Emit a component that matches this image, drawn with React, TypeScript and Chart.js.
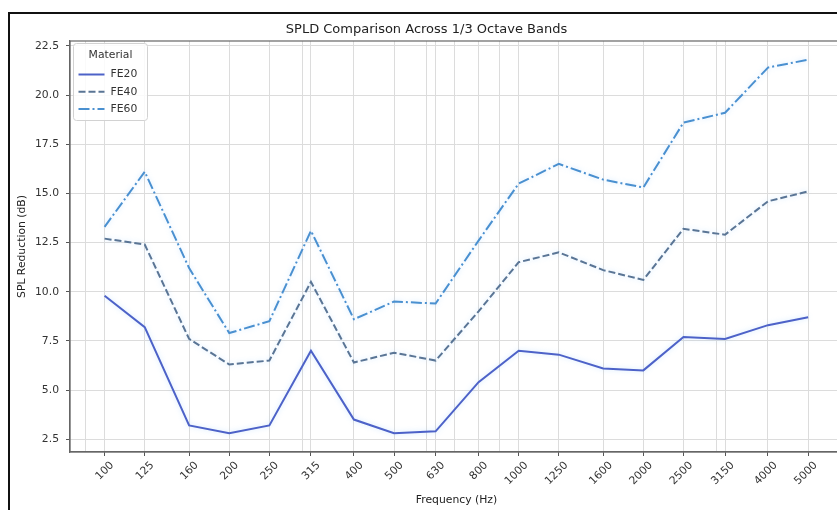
import React, { useEffect, useRef } from "react";
import { Chart, registerables } from "chart.js";

Chart.register(...registerables);

// ---- data ----
const frequencies = [100, 125, 160, 200, 250, 315, 400, 500, 630, 800, 1000, 1250, 1600, 2000, 2500, 3150, 4000, 5000];
const freqLabels = ["100", "125", "160", "200", "250", "315", "400", "500", "630", "800", "1000", "1250", "1600", "2000", "2500", "3150", "4000", "5000"];
const fe20 = [9.8, 8.2, 3.2, 2.8, 3.2, 7.0, 3.5, 2.8, 2.9, 5.4, 7.0, 6.8, 6.1, 6.0, 7.7, 7.6, 8.3, 8.7];
const fe40 = [12.7, 12.4, 7.6, 6.3, 6.5, 10.5, 6.4, 6.9, 6.5, 9.0, 11.5, 12.0, 11.1, 10.6, 13.2, 12.9, 14.6, 15.1];
const fe60 = [13.3, 16.1, 11.2, 7.9, 8.5, 13.1, 8.6, 9.5, 9.4, 12.6, 15.5, 16.5, 15.7, 15.3, 18.6, 19.1, 21.4, 21.8];
const seriesNames = ["FE20", "FE40", "FE60"];
const yTicks = [2.5, 5.0, 7.5, 10.0, 12.5, 15.0, 17.5, 20.0, 22.5];
const minorGrid = [90, 200, 300, 400, 500, 600, 700, 800, 900, 2000, 3000, 4000, 5000, 6000];

const chartTitle = "SPLD Comparison Across 1/3 Octave Bands";
const xTitle = "Frequency (Hz)";
const yTitle = "SPL Reduction (dB)";
const legendTitle = "Material";

const FONT = '"DejaVu Sans", "Liberation Sans", sans-serif';
const TICK_FONT_SIZE = 10.8;

const framePlugin = {
  id: "framePlugin",
  beforeDatasetsDraw(chart: any) {
    const { ctx, chartArea: a } = chart;
    ctx.save();
    ctx.strokeStyle = "#666";
    ctx.lineWidth = 1.2;
    ctx.strokeRect(a.left, a.top, a.right - a.left, a.bottom - a.top);
    ctx.restore();
  },
  beforeDatasetDraw(chart: any) {
    const ctx = chart.ctx;
    ctx.save();
    ctx.shadowColor = "rgba(120,190,255,0.35)";
    ctx.shadowBlur = 5;
  },
  afterDatasetDraw(chart: any) {
    chart.ctx.restore();
  },
  afterDraw(chart: any) {
    const { ctx, chartArea: a } = chart;
    const bx = a.left + 3.5;
    const by = a.top + 2.5;
    const bw = 74;
    const bh = 77;
    ctx.save();
    ctx.beginPath();
    const r = 3;
    ctx.moveTo(bx + r, by);
    ctx.lineTo(bx + bw - r, by);
    ctx.quadraticCurveTo(bx + bw, by, bx + bw, by + r);
    ctx.lineTo(bx + bw, by + bh - r);
    ctx.quadraticCurveTo(bx + bw, by + bh, bx + bw - r, by + bh);
    ctx.lineTo(bx + r, by + bh);
    ctx.quadraticCurveTo(bx, by + bh, bx, by + bh - r);
    ctx.lineTo(bx, by + r);
    ctx.quadraticCurveTo(bx, by, bx + r, by);
    ctx.closePath();
    ctx.fillStyle = "rgba(255,255,255,0.85)";
    ctx.fill();
    ctx.strokeStyle = "#d2d2d2";
    ctx.lineWidth = 1;
    ctx.stroke();

    ctx.font = `${TICK_FONT_SIZE}px ${FONT}`;
    ctx.fillStyle = "#333";
    ctx.textAlign = "center";
    ctx.textBaseline = "middle";
    ctx.fillText(legendTitle, bx + bw / 2, by + 12);

    chart.data.datasets.forEach((ds: any, i: number) => {
      const yy = by + 31 + i * 17.3;
      ctx.strokeStyle = ds.borderColor;
      ctx.lineWidth = ds.borderWidth;
      ctx.setLineDash(ds.borderDash || []);
      ctx.beginPath();
      ctx.moveTo(bx + 5, yy);
      ctx.lineTo(bx + 31, yy);
      ctx.stroke();
      ctx.setLineDash([]);
      ctx.textAlign = "left";
      ctx.fillStyle = "#333";
      ctx.fillText(ds.label, bx + 37, yy);
    });
    ctx.restore();
  },
};

export default function App() {
  const canvasRef = useRef<HTMLCanvasElement | null>(null);

  useEffect(() => {
    const canvas = canvasRef.current;
    if (!canvas) return;
    Chart.defaults.font.family = FONT;

    const colors = ["#4d62c8", "#5a7595", "#4a90d0"];
    const dashes = [[], [7, 3], [11, 3, 2, 3]];
    const values = [fe20, fe40, fe60];

    const chart = new Chart(canvas, {
      type: "line",
      data: {
        datasets: seriesNames.map((name, i) => ({
          label: name,
          data: frequencies.map((f, j) => ({ x: f, y: values[i][j] })),
          borderColor: colors[i],
          backgroundColor: colors[i],
          borderWidth: 2,
          borderDash: dashes[i],
          pointRadius: 0,
          tension: 0,
          fill: false,
        })),
      },
      options: {
        animation: false,
        responsive: false,
        devicePixelRatio: 1,
        layout: { padding: { left: 0, top: 0, right: 17, bottom: 0 } },
        plugins: {
          legend: { display: false },
          tooltip: { enabled: false },
          title: {
            display: true,
            text: chartTitle,
            color: "#222",
            font: { size: 13, family: FONT, weight: "normal" },
            padding: { top: 8, bottom: 3.4 },
          },
        },
        scales: {
          x: {
            type: "logarithmic",
            position: "bottom",
            min: 82.5,
            max: 6070,
            afterBuildTicks: (axis: any) => {
              axis.ticks = frequencies.map((v) => ({ value: v }));
            },
            afterFit: (axis: any) => {
              axis.height = 58;
            },
            ticks: {
              autoSkip: false,
              minRotation: 45,
              maxRotation: 45,
              color: "#333",
              font: { size: TICK_FONT_SIZE, family: FONT },
              padding: 3,
              labelOffset: (ctx: any) => {
                const lab = String(ctx.tick && ctx.tick.label ? ctx.tick.label : "");
                return 7.6 + 0.354 * lab.length * 6.87;
              },
              callback: (_v: any, i: number) => freqLabels[i],
            },
            grid: {
              color: "#dcdcdc",
              lineWidth: 1,
              tickColor: "#555",
              tickLength: 4,
            },
            border: { color: "#666", width: 1.2 },
            title: {
              display: true,
              text: xTitle,
              color: "#222",
              font: { size: TICK_FONT_SIZE, family: FONT },
              padding: { top: 0, bottom: 3.5 },
            },
          },
          xMinor: {
            type: "logarithmic",
            position: "bottom",
            min: 82.5,
            max: 6070,
            afterBuildTicks: (axis: any) => {
              axis.ticks = minorGrid.map((v) => ({ value: v }));
            },
            afterFit: (axis: any) => {
              axis.height = 0;
            },
            ticks: { display: false, autoSkip: false },
            grid: { color: "#dcdcdc", lineWidth: 1, drawTicks: false },
            border: { display: false },
          },
          y: {
            type: "linear",
            min: 1.85,
            max: 22.75,
            afterBuildTicks: (axis: any) => {
              axis.ticks = yTicks.map((v) => ({ value: v }));
            },
            afterFit: (axis: any) => {
              axis.width = 60;
            },
            ticks: {
              color: "#333",
              font: { size: TICK_FONT_SIZE, family: FONT },
              padding: 7,
              callback: (v: any) => Number(v).toFixed(1),
            },
            grid: {
              color: "#dcdcdc",
              lineWidth: 1,
              tickColor: "#555",
              tickLength: 4,
            },
            border: { color: "#666", width: 1.2 },
            title: {
              display: true,
              text: yTitle,
              color: "#222",
              font: { size: TICK_FONT_SIZE, family: FONT },
              padding: { top: 5.5, bottom: 0 },
            },
          },
        },
      } as any,
      plugins: [framePlugin],
    });

    return () => chart.destroy();
  }, []);

  return (
    <div
      style={{
        position: "fixed",
        left: 0,
        top: 0,
        width: 837,
        height: 510,
        overflow: "hidden",
        background: "#fff",
      }}
    >
      <div
        style={{
          position: "absolute",
          left: 8,
          top: 12,
          borderLeft: "2px solid #111",
          borderTop: "2px solid #111",
          width: 850,
          height: 496,
        }}
      >
        <canvas
          ref={canvasRef}
          width={850}
          height={496}
          style={{ display: "block", width: 850, height: 496 }}
        />
      </div>
    </div>
  );
}
